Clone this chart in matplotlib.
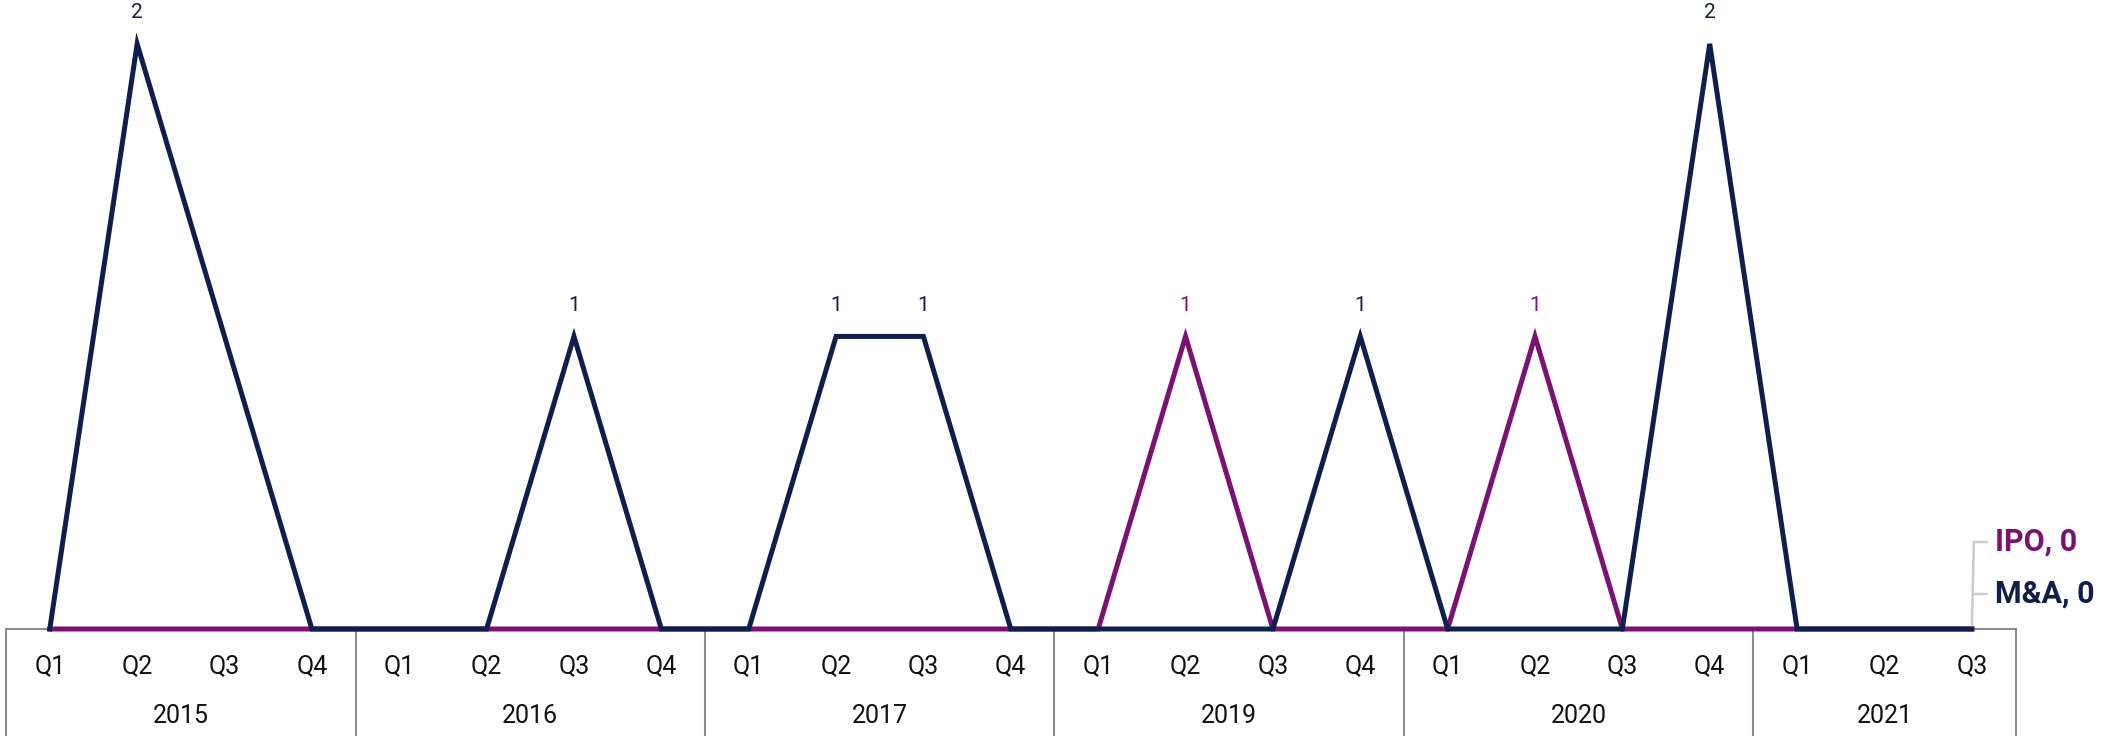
import numpy as np
import matplotlib
matplotlib.use("Agg")
import matplotlib.pyplot as plt
from matplotlib import transforms

# quarters grouped by year
years = ["2015", "2016", "2017", "2019", "2020", "2021"]
quarters_per_year = [4, 4, 4, 4, 4, 3]
quarter_names = ["Q1", "Q2", "Q3", "Q4"]

# deal counts per quarter (nan = no point, line connects across)
ma = [0, 2, np.nan, 0,  0, 0, 1, 0,  0, 1, 1, 0,  0, 0, 0, 1,  0, 0, 0, 2,  0, 0, 0]
ipo = [0, 0, 0, 0,  0, 0, 0, 0,  0, 0, 0, 0,  0, 1, 0, 0,  0, 1, 0, 0,  0, 0, 0]

NAVY = "#0e1f4d"
PURPLE = "#7b1173"
GREY = "#8c8c8c"
LEADER = "#cccccc"

plt.rcParams["font.family"] = ["Roboto", "DejaVu Sans"]

fig = plt.figure(figsize=(21.03, 7.36), dpi=100)
ax = fig.add_axes([0.0029, 0.1454, 0.9555, 0.8546])
n = sum(quarters_per_year)
ax.set_xlim(-0.5, n - 0.5)
ax.set_ylim(0, 2.15)
ax.axis("off")

x = np.arange(n)


def draw(values, color, z):
    v = np.array(values, dtype=float)
    ok = ~np.isnan(v)
    ax.plot(x[ok], v[ok], color=color, lw=3.6, solid_joinstyle="miter",
            clip_on=False, zorder=z)
    for xi, vi in zip(x[ok], v[ok]):
        if vi > 0:
            ax.annotate(f"{int(vi)}", (xi, vi), xytext=(0, 31), textcoords="offset pixels",
                        ha="center", va="center", fontsize=15, color=color)


draw(ipo, PURPLE, 3)
draw(ma, NAVY, 4)

# grouped category axis drawn as boxes
bt = transforms.blended_transform_factory(ax.transData, fig.transFigure)
ax.plot([-0.5, n - 0.5], [0.1454, 0.1454], transform=bt, color=GREY, lw=1.5,
        clip_on=False, zorder=1)
start = 0
bounds = [-0.5]
for yr, cnt in zip(years, quarters_per_year):
    for q in range(cnt):
        ax.text(start + q, 0.0948, quarter_names[q], transform=bt, ha="center",
                va="center", fontsize=18, color="#111111")
    ax.text(start + (cnt - 1) / 2, 0.0268, yr, transform=bt, ha="center",
            va="center", fontsize=18, color="#111111")
    start += cnt
    bounds.append(start - 0.5)
for b in bounds:
    ax.plot([b, b], [0, 0.1454], transform=bt, color=GREY, lw=1.5, clip_on=False)


# end labels with leader lines (offsets in pixels from the last point)
def px(dx, dy):
    return transforms.offset_copy(ax.transData, fig=fig, x=dx, y=dy, units="dots")


last = n - 1
ax.annotate("", xy=(last, 0), xytext=(2, 87), textcoords="offset pixels",
            arrowprops=dict(arrowstyle="-", color=LEADER, lw=1.8,
                            shrinkA=0, shrinkB=0))
for dy in (87, 35):
    ax.annotate("", xy=(last, 0), xycoords=px(2, dy), xytext=(last, 0),
                textcoords=px(15, dy),
                arrowprops=dict(arrowstyle="-", color=LEADER, lw=1.8,
                                shrinkA=0, shrinkB=0))

ax.text(last, 0, "IPO, 0", transform=px(23, 87), ha="left", va="center",
        fontsize=22, fontweight="bold", color=PURPLE)
ax.text(last, 0, "M&A, 0", transform=px(23, 35), ha="left", va="center",
        fontsize=22, fontweight="bold", color=NAVY)

fig.savefig("out.png", dpi=100)
